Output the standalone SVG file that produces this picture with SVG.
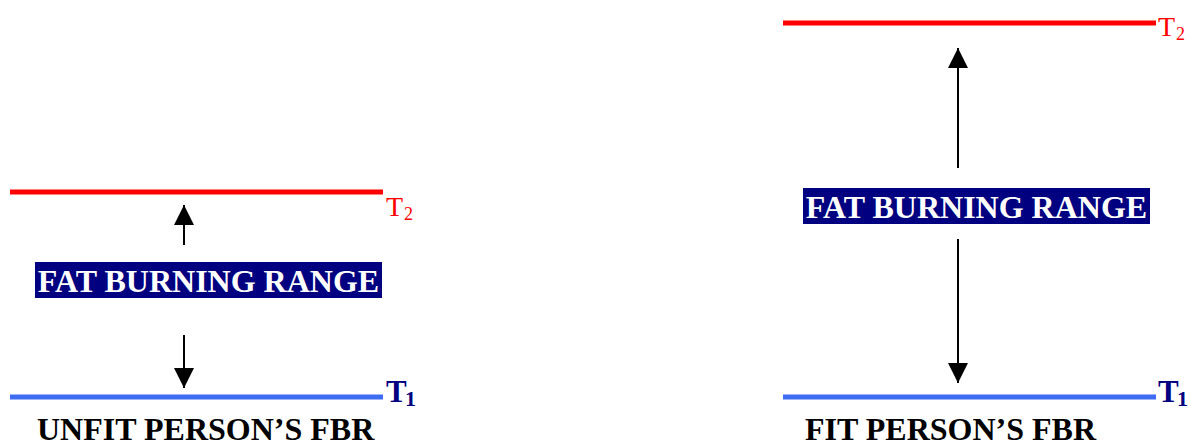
<svg xmlns="http://www.w3.org/2000/svg" width="1193" height="441" viewBox="0 0 1193 441">
<style>
.red{stroke:#ff0000;stroke-width:5}
.blue{stroke:#3d6bf2;stroke-width:5}
.arr{stroke:#000;stroke-width:2}
.t2{font-family:"Liberation Serif",serif;fill:#ff0000}
.t1{font-family:"Liberation Serif",serif;font-weight:bold;fill:#000080}
.box{fill:#000080}
.fbr{font-family:"Liberation Serif",serif;font-weight:bold;font-size:32px;fill:#ffffff}
.cap{font-family:"Liberation Serif",serif;font-weight:bold;font-size:32px;fill:#000000}
</style>
<defs>
<marker id="ah" markerUnits="userSpaceOnUse" markerWidth="20" markerHeight="20" refX="20" refY="10" orient="auto" viewBox="0 0 20 20">
<path d="M0,0 L20,10 L0,20 Z" fill="#000"/>
</marker>
</defs>
<g id="unfit-t2">
<line class="red" x1="10" y1="192" x2="383" y2="192"/>
<text class="t2" x="386" y="216" font-size="28">T</text>
<text class="t2" x="404" y="220" font-size="18">2</text>
</g>
<g id="unfit-t1">
<line class="blue" x1="10" y1="397" x2="383" y2="397"/>
<text class="t1" x="386" y="402" font-size="31">T</text>
<text class="t1" x="405" y="406" font-size="22">1</text>
</g>
<g id="unfit-range">
<rect class="box" x="35" y="262" width="347" height="36"/>
<text class="fbr" x="208.5" y="292" text-anchor="middle">FAT BURNING RANGE</text>
</g>
<g id="unfit-caption">
<text class="cap" x="37" y="440">UNFIT PERSON’S FBR</text>
</g>
<g id="fit-t2">
<line class="red" x1="783" y1="23" x2="1156" y2="23"/>
<text class="t2" x="1158" y="36" font-size="28">T</text>
<text class="t2" x="1176" y="40" font-size="18">2</text>
</g>
<g id="fit-t1">
<line class="blue" x1="783" y1="397" x2="1156" y2="397"/>
<text class="t1" x="1158" y="402" font-size="31">T</text>
<text class="t1" x="1177" y="406" font-size="22">1</text>
</g>
<g id="fit-range">
<rect class="box" x="803" y="188" width="347" height="36"/>
<text class="fbr" x="976.5" y="218" text-anchor="middle">FAT BURNING RANGE</text>
</g>
<g id="fit-caption">
<text class="cap" x="805" y="440">FIT PERSON’S FBR</text>
</g>
<g id="connectors">
<line class="arr" x1="184" y1="245" x2="184" y2="205" marker-end="url(#ah)"/>
<line class="arr" x1="184" y1="335" x2="184" y2="388" marker-end="url(#ah)"/>
<line class="arr" x1="958" y1="168" x2="958" y2="48" marker-end="url(#ah)"/>
<line class="arr" x1="958" y1="239" x2="958" y2="383" marker-end="url(#ah)"/>
</g>
</svg>
